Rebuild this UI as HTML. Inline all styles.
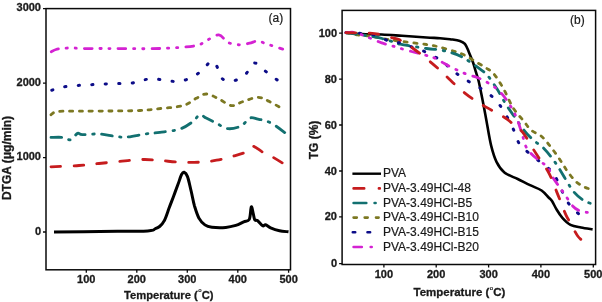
<!DOCTYPE html>
<html><head><meta charset="utf-8"><style>
html,body{margin:0;padding:0;background:#fff;}
#w{position:relative;width:602px;height:302px;overflow:hidden;background:#fff;color:#1a1a1a;filter:blur(0.35px);}
</style></head><body><div id="w">
<svg width="602" height="302" viewBox="0 0 602 302" style="position:absolute;left:0;top:0">
<rect width="602" height="302" fill="#fff"/>
<path d="M51.3,51.8 C52.1,51.4 54.2,50.0 56.0,49.5 C57.8,49.0 59.2,48.8 62.0,48.5 C64.8,48.2 69.5,47.8 72.5,47.8 C75.5,47.8 75.4,48.4 80.0,48.5 C84.6,48.6 93.3,48.5 100.0,48.5 C106.7,48.5 110.0,48.6 120.0,48.6 C130.0,48.6 147.5,49.0 160.0,48.5 C172.5,48.0 187.2,47.1 195.0,45.8 C202.8,44.5 202.6,42.3 206.6,40.5 C210.6,38.7 215.2,34.6 218.8,34.9 C222.4,35.2 224.5,40.9 228.0,42.5 C231.5,44.1 236.1,44.7 239.7,44.8 C243.3,44.9 246.6,43.9 249.6,43.2 C252.6,42.6 255.1,40.8 257.9,40.9 C260.7,41.0 262.1,42.4 266.2,43.8 C270.3,45.2 279.9,48.2 282.7,49.1" fill="none" stroke="#d422d2" stroke-width="2.8" stroke-linejoin="round" stroke-linecap="round" stroke-dasharray="7.7 7.8 1.2 7.8 1.2 8.1"/>
<path d="M51.8,90.2 C53.4,89.7 57.6,88.0 61.4,87.3 C65.2,86.5 70.1,86.1 74.6,85.7 C79.1,85.3 83.9,85.2 88.4,84.9 C92.9,84.6 97.0,84.3 101.6,84.1 C106.2,83.9 111.6,83.7 116.2,83.6 C120.8,83.5 125.5,84.0 129.3,83.6 C133.1,83.2 135.2,81.8 139.0,81.0 C142.8,80.2 147.2,78.9 151.8,78.8 C156.4,78.7 161.8,80.0 166.4,80.4 C171.0,80.9 175.3,82.1 179.6,81.5 C183.9,80.9 188.2,78.9 192.0,77.0 C195.8,75.1 199.2,72.9 202.3,70.3 C205.5,67.7 208.5,62.2 210.9,61.4 C213.3,60.6 214.6,62.8 216.5,65.7 C218.4,68.6 219.6,76.4 222.5,78.9 C225.4,81.4 230.3,81.3 234.1,80.6 C237.9,79.9 242.0,77.5 245.3,74.6 C248.6,71.7 250.9,63.8 253.9,63.0 C256.9,62.2 260.4,67.4 263.5,69.7 C266.6,72.0 270.0,75.0 272.8,77.0 C275.6,79.0 279.1,81.1 280.4,81.9" fill="none" stroke="#0c0c88" stroke-width="3.0" stroke-linejoin="round" stroke-linecap="round" stroke-dasharray="1.2 12.3"/>
<path d="M51.0,114.8 C52.1,114.2 52.8,112.1 57.6,111.5 C62.4,110.9 71.3,111.3 80.0,111.2 C88.7,111.1 100.0,111.1 110.0,111.0 C120.0,110.9 132.2,110.8 140.0,110.5 C147.8,110.2 149.4,109.7 156.6,108.9 C163.8,108.1 176.4,107.4 183.0,105.6 C189.6,103.8 192.4,100.2 196.3,98.3 C200.2,96.4 202.6,94.0 206.2,94.0 C209.8,94.0 213.6,96.4 217.8,98.3 C222.0,100.2 227.3,105.0 231.5,105.6 C235.7,106.1 238.6,103.0 243.0,101.6 C247.4,100.2 253.6,97.3 258.0,97.3 C262.4,97.3 265.1,99.5 269.5,101.6 C273.9,103.7 281.9,108.5 284.4,109.9" fill="none" stroke="#7c7822" stroke-width="2.8" stroke-linejoin="round" stroke-linecap="round" stroke-dasharray="3.2 6.6"/>
<path d="M51.0,137.4 C52.9,137.4 59.3,137.0 62.6,137.4 C65.9,137.8 68.3,140.4 70.8,139.7 C73.3,139.0 75.6,134.2 77.5,133.4 C79.4,132.6 78.8,134.6 82.4,134.7 C86.0,134.8 93.5,133.7 99.0,134.0 C104.5,134.3 110.8,135.9 115.5,136.4 C120.2,136.9 122.0,137.4 127.0,137.0 C132.0,136.6 139.8,134.8 145.3,134.0 C150.8,133.2 154.2,133.2 159.9,132.4 C165.6,131.6 174.2,130.9 179.7,129.1 C185.2,127.3 189.7,123.9 193.0,121.5 C196.3,119.1 197.4,115.4 199.6,114.8 C201.8,114.2 203.4,116.7 206.2,118.1 C209.0,119.5 212.5,121.3 216.2,123.1 C219.8,124.9 223.9,128.2 228.1,128.7 C232.3,129.1 237.8,127.6 241.4,125.8 C245.0,124.0 246.9,119.2 249.7,118.1 C252.5,117.0 254.4,118.3 258.0,119.1 C261.6,119.9 266.2,120.5 271.2,123.1 C276.1,125.7 284.9,132.8 287.7,134.7" fill="none" stroke="#127070" stroke-width="2.8" stroke-linejoin="round" stroke-linecap="round" stroke-dasharray="10.5 7.5 1.5 7.5"/>
<path d="M51.0,166.8 C55.7,166.6 71.0,166.1 79.0,165.5 C87.0,164.9 91.8,164.2 99.0,163.5 C106.2,162.8 114.5,161.9 122.0,161.2 C129.4,160.5 137.4,159.6 143.7,159.5 C150.0,159.4 153.9,160.1 159.9,160.5 C165.9,160.9 173.1,161.9 179.7,162.2 C186.3,162.5 193.4,162.5 199.6,162.2 C205.8,161.9 211.0,161.2 216.6,160.2 C222.2,159.2 227.9,157.7 233.1,156.2 C238.3,154.7 244.7,153.0 248.0,151.3 C251.3,149.7 250.5,146.1 253.0,146.3 C255.5,146.5 259.9,150.7 262.9,152.3 C265.9,154.0 267.1,153.9 271.2,156.2 C275.3,158.5 284.9,164.5 287.7,166.2" fill="none" stroke="#c61c1e" stroke-width="2.8" stroke-linejoin="round" stroke-linecap="round" stroke-dasharray="9.7 13.3"/>
<path d="M54.0,231.9 C61.7,231.8 84.4,231.7 100.0,231.5 C115.6,231.3 138.5,231.3 147.7,230.9 C156.9,230.5 153.0,229.5 155.0,228.8 C157.0,228.1 158.0,227.8 159.6,226.5 C161.2,225.2 162.8,223.7 164.3,220.7 C165.9,217.7 167.4,212.7 168.9,208.6 C170.4,204.5 172.1,200.3 173.6,196.2 C175.1,192.1 176.8,187.5 178.2,183.8 C179.5,180.2 180.7,176.2 181.7,174.3 C182.7,172.4 183.0,171.8 184.0,172.2 C185.0,172.6 186.3,173.5 187.5,176.6 C188.7,179.7 189.8,185.7 191.0,190.5 C192.2,195.3 193.1,200.9 194.4,205.6 C195.8,210.2 197.3,215.2 199.1,218.4 C200.8,221.6 202.8,223.4 204.9,224.9 C207.0,226.4 208.4,226.8 211.9,227.2 C215.4,227.6 221.8,227.7 225.8,227.4 C229.8,227.1 232.8,226.3 235.8,225.4 C238.8,224.5 241.4,222.8 243.7,221.8 C245.9,220.8 248.0,221.9 249.3,219.4 C250.6,216.9 250.6,207.8 251.3,206.9 C252.0,206.0 252.7,211.8 253.3,213.9 C253.9,216.1 254.0,218.7 254.7,219.8 C255.4,221.0 256.4,219.8 257.7,220.8 C259.0,221.8 261.3,225.1 262.6,225.8 C263.9,226.5 264.3,224.5 265.6,224.8 C266.9,225.1 268.3,226.8 270.6,227.8 C272.9,228.8 276.5,230.1 279.5,230.8 C282.5,231.5 287.0,231.6 288.5,231.8" fill="none" stroke="#000" stroke-width="3.0" stroke-linejoin="round"/>
<path d="M346.0,32.7 C348.6,32.9 355.9,33.7 361.9,34.0 C367.8,34.3 375.0,34.2 381.7,34.5 C388.4,34.8 394.5,35.3 402.0,35.8 C409.5,36.3 420.2,37.1 426.5,37.5 C432.8,37.9 436.1,37.9 440.0,38.2 C443.9,38.5 446.7,38.8 450.0,39.2 C453.3,39.7 457.4,40.1 459.9,40.9 C462.4,41.7 463.4,42.1 464.9,43.9 C466.4,45.7 467.5,48.9 468.8,51.9 C470.1,54.9 471.6,58.5 472.8,61.8 C474.0,65.1 474.8,68.4 475.8,71.7 C476.8,75.0 477.7,77.0 478.8,81.7 C479.9,86.4 481.2,93.2 482.5,99.7 C483.8,106.2 485.1,113.2 486.5,120.9 C487.9,128.6 489.5,139.1 491.2,145.9 C492.9,152.7 494.3,157.4 496.5,161.8 C498.7,166.2 500.9,169.5 504.4,172.4 C507.9,175.3 513.4,176.9 517.7,179.0 C522.0,181.1 526.0,183.3 530.0,185.2 C534.0,187.1 538.5,188.4 541.6,190.5 C544.7,192.6 546.9,195.8 548.6,197.5 C550.3,199.2 550.7,199.0 552.0,201.0 C553.3,203.0 554.9,206.7 556.6,209.5 C558.3,212.3 560.1,215.2 562.4,217.8 C564.7,220.4 567.4,223.2 570.5,224.8 C573.6,226.4 577.3,226.8 581.0,227.6 C584.7,228.4 590.7,229.1 592.6,229.4" fill="none" stroke="#000" stroke-width="2.6" stroke-linejoin="round"/>
<path d="M346.0,32.7 C348.0,33.1 354.1,34.4 357.9,34.9 C361.6,35.4 365.2,35.4 368.5,35.9 C371.8,36.4 374.7,37.0 377.8,37.6 C380.9,38.2 383.7,38.8 387.0,39.3 C390.3,39.8 391.0,40.0 397.6,40.9 C404.2,41.8 419.4,43.5 426.5,44.5 C433.6,45.5 435.1,46.0 440.0,47.2 C444.9,48.4 451.6,50.5 455.9,51.9 C460.2,53.3 462.5,54.1 465.8,55.8 C469.1,57.4 472.5,59.8 475.8,61.8 C479.1,63.8 482.7,65.8 485.7,67.8 C488.7,69.8 490.7,70.2 493.7,73.7 C496.7,77.2 500.5,83.4 503.7,89.1 C506.9,94.8 509.7,102.4 513.0,107.7 C516.3,113.0 520.6,117.2 523.6,120.9 C526.6,124.6 528.1,127.6 530.9,130.0 C533.7,132.4 537.7,133.4 540.2,135.3 C542.8,137.2 544.3,139.1 546.2,141.2 C548.1,143.3 549.6,145.6 551.5,148.0 C553.4,150.4 555.4,153.1 557.3,155.8 C559.2,158.6 561.2,161.7 563.0,164.5 C564.8,167.3 566.1,169.6 568.3,172.5 C570.5,175.4 573.5,179.5 576.4,182.0 C579.3,184.5 582.8,186.3 585.7,187.6 C588.6,188.9 592.4,189.5 593.8,189.9" fill="none" stroke="#7c7822" stroke-width="2.8" stroke-linejoin="round" stroke-linecap="round" stroke-dasharray="3.2 6.6"/>
<path d="M346.0,32.7 C350.8,33.4 368.8,35.9 375.0,36.9 C381.2,37.9 380.1,38.1 383.0,38.9 C385.9,39.7 389.4,40.7 392.3,41.6 C395.2,42.5 394.6,43.1 400.3,44.2 C406.0,45.4 419.9,47.5 426.5,48.5 C433.1,49.5 435.8,49.2 440.0,49.9 C444.2,50.6 448.2,51.8 451.9,52.9 C455.5,54.0 458.9,55.3 461.9,56.8 C464.9,58.3 466.8,59.8 469.8,61.8 C472.8,63.8 476.8,66.5 479.8,68.8 C482.8,71.1 484.8,72.3 487.7,75.7 C490.6,79.1 494.0,84.2 497.1,89.1 C500.2,94.0 503.3,100.1 506.4,105.0 C509.5,109.9 512.3,113.6 515.6,118.3 C518.9,123.0 523.0,129.2 526.2,133.0 C529.4,136.8 531.7,138.4 534.6,141.0 C537.5,143.6 540.8,145.4 543.9,148.5 C547.0,151.6 550.5,156.1 553.2,159.7 C555.9,163.3 557.9,166.5 560.2,170.2 C562.5,173.9 564.8,178.1 567.1,181.8 C569.4,185.5 571.4,189.1 574.1,192.2 C576.8,195.3 580.1,198.2 583.4,200.3 C586.7,202.4 592.1,203.8 593.8,204.5" fill="none" stroke="#127070" stroke-width="2.8" stroke-linejoin="round" stroke-linecap="round" stroke-dasharray="10.5 7.5 1.5 7.5"/>
<path d="M346.0,32.7 C348.9,32.9 358.2,33.2 363.2,33.6 C368.2,34.0 370.9,33.8 375.8,35.3 C380.7,36.8 387.8,41.3 392.3,42.5 C396.8,43.7 399.1,41.8 402.6,42.7 C406.1,43.6 409.9,46.4 413.4,47.8 C416.9,49.2 420.3,49.8 423.8,51.2 C427.3,52.7 431.2,54.7 434.4,56.5 C437.6,58.3 439.9,59.4 443.0,61.8 C446.1,64.2 449.6,68.1 452.9,70.8 C456.2,73.5 459.4,75.4 462.9,77.7 C466.4,80.0 470.3,82.6 473.8,84.7 C477.3,86.8 480.6,88.1 483.8,90.2 C487.0,92.3 490.5,95.0 493.1,97.5 C495.8,100.0 497.5,102.0 499.7,105.0 C501.9,108.0 504.1,111.4 506.4,115.6 C508.7,119.8 511.6,125.4 513.7,130.0 C515.8,134.6 516.6,139.4 519.0,143.2 C521.4,146.9 523.7,148.5 528.3,152.5 C532.9,156.5 542.4,163.4 546.8,167.1 C551.1,170.8 551.2,169.4 554.4,174.8 C557.6,180.2 562.7,193.5 566.0,199.3 C569.3,205.1 571.2,206.4 574.1,209.5 C577.0,212.6 581.8,216.6 583.3,218.0" fill="none" stroke="#0c0c88" stroke-width="3.0" stroke-linejoin="round" stroke-linecap="round" stroke-dasharray="1.2 12.3"/>
<path d="M346.0,32.7 C347.3,32.6 351.0,31.9 353.9,32.3 C356.8,32.7 360.4,34.3 363.2,35.3 C366.0,36.3 367.4,36.9 370.5,38.2 C373.6,39.5 378.1,41.6 381.7,42.9 C385.3,44.2 389.2,45.0 392.3,45.9 C395.4,46.8 397.1,47.5 400.3,48.4 C403.5,49.3 407.9,50.5 411.5,51.5 C415.1,52.5 419.1,53.4 422.2,54.2 C425.3,55.1 427.9,55.9 430.0,56.6 C432.1,57.3 432.9,57.2 435.0,58.2 C437.1,59.2 439.9,61.0 442.4,62.4 C444.9,63.8 447.1,65.1 449.8,66.5 C452.6,67.9 455.9,69.4 458.9,70.8 C461.9,72.2 464.6,73.5 467.8,74.7 C471.0,75.9 474.5,76.4 477.8,77.7 C481.1,79.0 484.4,80.7 487.7,82.7 C491.0,84.7 494.6,86.8 497.7,89.6 C500.8,92.4 503.4,95.4 506.4,99.7 C509.4,104.0 513.0,110.1 515.6,115.6 C518.2,121.1 519.8,127.1 521.7,132.6 C523.6,138.1 524.1,143.8 527.0,148.5 C529.9,153.2 535.5,157.5 538.9,160.5 C542.3,163.5 545.2,164.1 547.4,166.7 C549.6,169.3 550.1,172.7 552.0,176.0 C553.9,179.3 556.9,183.3 559.0,186.4 C561.1,189.5 562.5,191.2 564.8,194.5 C567.1,197.8 570.4,203.5 572.9,206.2 C575.4,208.9 577.2,209.8 579.9,210.9 C582.6,212.0 587.7,212.4 589.2,212.7" fill="none" stroke="#d422d2" stroke-width="2.8" stroke-linejoin="round" stroke-linecap="round" stroke-dasharray="7.7 7.8 1.2 7.8 1.2 8.1"/>
<path d="M346.0,32.7 C350.0,32.8 364.3,32.9 369.8,33.2 C375.3,33.5 375.2,33.5 379.0,34.3 C382.8,35.1 389.0,36.9 392.3,37.8 C395.6,38.7 395.5,37.8 399.0,39.6 C402.5,41.4 407.7,44.6 413.2,48.5 C418.7,52.4 426.5,58.7 431.8,63.1 C437.1,67.5 440.3,70.7 445.0,75.0 C449.7,79.3 454.9,84.8 460.0,89.1 C465.1,93.4 470.6,97.6 475.9,101.1 C481.2,104.6 486.5,107.2 491.8,110.3 C497.1,113.4 503.5,116.5 507.7,119.6 C511.9,122.7 514.5,126.7 517.0,128.9 C519.5,131.1 519.8,128.4 523.0,132.6 C526.2,136.8 531.9,147.2 536.2,153.8 C540.5,160.5 545.2,166.2 548.6,172.5 C552.0,178.8 554.5,186.5 556.6,191.6 C558.7,196.7 559.7,199.3 561.2,203.2 C562.8,207.1 564.1,211.1 565.9,214.8 C567.6,218.5 569.8,221.7 571.7,225.2 C573.6,228.7 575.4,232.8 577.5,235.7 C579.6,238.6 583.2,241.4 584.4,242.6" fill="none" stroke="#c61c1e" stroke-width="2.8" stroke-linejoin="round" stroke-linecap="round" stroke-dasharray="9.7 13.3"/>
<rect x="46" y="8.6" width="244.5" height="261.2" fill="none" stroke="#0a0a0a" stroke-width="1.5"/>
<rect x="342.1" y="10.4" width="253.5" height="254.1" fill="none" stroke="#0a0a0a" stroke-width="1.5"/>
<path d="M86.3,269.8 V272.8 M136.8,269.8 V272.8 M187.3,269.8 V272.8 M237.8,269.8 V272.8 M288.6,269.8 V272.8 M46,8.6 H43 M46,83.2 H43 M46,157.6 H43 M46,232.0 H43 M383.9,264.5 V267.5 M436.2,264.5 V267.5 M488.6,264.5 V267.5 M540.9,264.5 V267.5 M593.3,264.5 V267.5 M342.1,33.2 H339.1 M342.1,79.1 H339.1 M342.1,125.0 H339.1 M342.1,171.0 H339.1 M342.1,216.9 H339.1 M342.1,263.6 H339.1" stroke="#0a0a0a" stroke-width="1.3" fill="none"/>
<path d="M352.4,173.7 H381" stroke="#000" stroke-width="2.4"/>
<path d="M353.59999999999997,188.4 H364.2 M378.9,188.4 H379.8" stroke="#c61c1e" stroke-width="2.6" stroke-linecap="round"/>
<path d="M353.59999999999997,203.0 H366.3 M374.59999999999997,203.0 H375.6" stroke="#127070" stroke-width="2.6" stroke-linecap="round"/>
<path d="M353.59999999999997,217.6 H356.8 M364.7,217.6 H367.7 M376.0,217.6 H378.6" stroke="#7c7822" stroke-width="2.6" stroke-linecap="round"/>
<path d="M352.8,232.3 H355.2 M367.5,232.3 H370.1" stroke="#0c0c88" stroke-width="2.6" stroke-linecap="round"/>
<path d="M353.59999999999997,247.0 H361.8 M370.7,247.0 H371.7" stroke="#d422d2" stroke-width="2.6" stroke-linecap="round"/>
</svg>
<div style="position:absolute;left:36.3px;width:100px;text-align:center;top:273.5px;font-family:'Liberation Sans',sans-serif;font-size:11px;font-weight:bold;line-height:1;white-space:nowrap;-webkit-text-stroke:0.3px #1a1a1a;">100</div><div style="position:absolute;left:86.80000000000001px;width:100px;text-align:center;top:273.5px;font-family:'Liberation Sans',sans-serif;font-size:11px;font-weight:bold;line-height:1;white-space:nowrap;-webkit-text-stroke:0.3px #1a1a1a;">200</div><div style="position:absolute;left:137.3px;width:100px;text-align:center;top:273.5px;font-family:'Liberation Sans',sans-serif;font-size:11px;font-weight:bold;line-height:1;white-space:nowrap;-webkit-text-stroke:0.3px #1a1a1a;">300</div><div style="position:absolute;left:187.8px;width:100px;text-align:center;top:273.5px;font-family:'Liberation Sans',sans-serif;font-size:11px;font-weight:bold;line-height:1;white-space:nowrap;-webkit-text-stroke:0.3px #1a1a1a;">400</div><div style="position:absolute;left:238.60000000000002px;width:100px;text-align:center;top:273.5px;font-family:'Liberation Sans',sans-serif;font-size:11px;font-weight:bold;line-height:1;white-space:nowrap;-webkit-text-stroke:0.3px #1a1a1a;">500</div><div style="position:absolute;right:561px;top:2.0999999999999996px;font-family:'Liberation Sans',sans-serif;font-size:11px;font-weight:bold;line-height:1;white-space:nowrap;-webkit-text-stroke:0.3px #1a1a1a;">3000</div><div style="position:absolute;right:561px;top:76.7px;font-family:'Liberation Sans',sans-serif;font-size:11px;font-weight:bold;line-height:1;white-space:nowrap;-webkit-text-stroke:0.3px #1a1a1a;">2000</div><div style="position:absolute;right:561px;top:151.1px;font-family:'Liberation Sans',sans-serif;font-size:11px;font-weight:bold;line-height:1;white-space:nowrap;-webkit-text-stroke:0.3px #1a1a1a;">1000</div><div style="position:absolute;right:561px;top:225.5px;font-family:'Liberation Sans',sans-serif;font-size:11px;font-weight:bold;line-height:1;white-space:nowrap;-webkit-text-stroke:0.3px #1a1a1a;">0</div><div style="position:absolute;left:333.9px;width:100px;text-align:center;top:268.5px;font-family:'Liberation Sans',sans-serif;font-size:11px;font-weight:bold;line-height:1;white-space:nowrap;-webkit-text-stroke:0.3px #1a1a1a;">100</div><div style="position:absolute;left:386.2px;width:100px;text-align:center;top:268.5px;font-family:'Liberation Sans',sans-serif;font-size:11px;font-weight:bold;line-height:1;white-space:nowrap;-webkit-text-stroke:0.3px #1a1a1a;">200</div><div style="position:absolute;left:438.6px;width:100px;text-align:center;top:268.5px;font-family:'Liberation Sans',sans-serif;font-size:11px;font-weight:bold;line-height:1;white-space:nowrap;-webkit-text-stroke:0.3px #1a1a1a;">300</div><div style="position:absolute;left:490.9px;width:100px;text-align:center;top:268.5px;font-family:'Liberation Sans',sans-serif;font-size:11px;font-weight:bold;line-height:1;white-space:nowrap;-webkit-text-stroke:0.3px #1a1a1a;">400</div><div style="position:absolute;left:543.3px;width:100px;text-align:center;top:268.5px;font-family:'Liberation Sans',sans-serif;font-size:11px;font-weight:bold;line-height:1;white-space:nowrap;-webkit-text-stroke:0.3px #1a1a1a;">500</div><div style="position:absolute;right:265px;top:27.700000000000003px;font-family:'Liberation Sans',sans-serif;font-size:11px;font-weight:bold;line-height:1;white-space:nowrap;-webkit-text-stroke:0.3px #1a1a1a;">100</div><div style="position:absolute;right:265px;top:73.6px;font-family:'Liberation Sans',sans-serif;font-size:11px;font-weight:bold;line-height:1;white-space:nowrap;-webkit-text-stroke:0.3px #1a1a1a;">80</div><div style="position:absolute;right:265px;top:119.5px;font-family:'Liberation Sans',sans-serif;font-size:11px;font-weight:bold;line-height:1;white-space:nowrap;-webkit-text-stroke:0.3px #1a1a1a;">60</div><div style="position:absolute;right:265px;top:165.5px;font-family:'Liberation Sans',sans-serif;font-size:11px;font-weight:bold;line-height:1;white-space:nowrap;-webkit-text-stroke:0.3px #1a1a1a;">40</div><div style="position:absolute;right:265px;top:211.4px;font-family:'Liberation Sans',sans-serif;font-size:11px;font-weight:bold;line-height:1;white-space:nowrap;-webkit-text-stroke:0.3px #1a1a1a;">20</div><div style="position:absolute;right:265px;top:258.1px;font-family:'Liberation Sans',sans-serif;font-size:11px;font-weight:bold;line-height:1;white-space:nowrap;-webkit-text-stroke:0.3px #1a1a1a;">0</div><div style="position:absolute;left:124.0px;top:289.8px;font-family:'Liberation Sans',sans-serif;font-size:11.2px;font-weight:bold;line-height:1;white-space:nowrap;-webkit-text-stroke:0.3px #1a1a1a;">Temperature (<span style="font-size:6px;font-weight:normal;position:relative;top:-6.5px;margin-left:0.5px;-webkit-text-stroke:0.2px #1a1a1a">o</span>C)</div><div style="position:absolute;left:413.5px;top:287.2px;font-family:'Liberation Sans',sans-serif;font-size:11.5px;font-weight:bold;line-height:1;white-space:nowrap;-webkit-text-stroke:0.3px #1a1a1a;">Temperature (<span style="font-size:6px;font-weight:normal;position:relative;top:-6.5px;margin-left:0.5px;-webkit-text-stroke:0.2px #1a1a1a">o</span>C)</div><div style="position:absolute;left:268.5px;top:11.8px;font-family:'Liberation Sans',sans-serif;font-size:12px;font-weight:normal;line-height:1;white-space:nowrap;-webkit-text-stroke:0.2px #1a1a1a;">(a)</div><div style="position:absolute;left:570px;top:13.7px;font-family:'Liberation Sans',sans-serif;font-size:12px;font-weight:normal;line-height:1;white-space:nowrap;-webkit-text-stroke:0.2px #1a1a1a;">(b)</div><div style="position:absolute;left:6.6px;top:157.5px;width:0;height:0"><div style="position:absolute;transform:translate(-50%,-50%) rotate(-90deg);font-family:'Liberation Sans',sans-serif;font-size:12px;font-weight:bold;line-height:1;white-space:nowrap;-webkit-text-stroke:0.3px #1a1a1a">DTGA (&mu;g/min)</div></div><div style="position:absolute;left:314px;top:139.5px;width:0;height:0"><div style="position:absolute;transform:translate(-50%,-50%) rotate(-90deg);font-family:'Liberation Sans',sans-serif;font-size:12px;font-weight:bold;line-height:1;white-space:nowrap;-webkit-text-stroke:0.3px #1a1a1a">TG (%)</div></div><div style="position:absolute;left:383px;top:167.39999999999998px;font-family:'Liberation Sans',sans-serif;font-size:12px;font-weight:normal;line-height:1;white-space:nowrap;-webkit-text-stroke:0.2px #1a1a1a;">PVA</div><div style="position:absolute;left:383px;top:182.1px;font-family:'Liberation Sans',sans-serif;font-size:12px;font-weight:normal;line-height:1;white-space:nowrap;-webkit-text-stroke:0.2px #1a1a1a;">PVA-3.49HCl-48</div><div style="position:absolute;left:383px;top:196.7px;font-family:'Liberation Sans',sans-serif;font-size:12px;font-weight:normal;line-height:1;white-space:nowrap;-webkit-text-stroke:0.2px #1a1a1a;">PVA-3.49HCl-B5</div><div style="position:absolute;left:383px;top:211.29999999999998px;font-family:'Liberation Sans',sans-serif;font-size:12px;font-weight:normal;line-height:1;white-space:nowrap;-webkit-text-stroke:0.2px #1a1a1a;">PVA-3.49HCl-B10</div><div style="position:absolute;left:383px;top:226.0px;font-family:'Liberation Sans',sans-serif;font-size:12px;font-weight:normal;line-height:1;white-space:nowrap;-webkit-text-stroke:0.2px #1a1a1a;">PVA-3.49HCl-B15</div><div style="position:absolute;left:383px;top:240.7px;font-family:'Liberation Sans',sans-serif;font-size:12px;font-weight:normal;line-height:1;white-space:nowrap;-webkit-text-stroke:0.2px #1a1a1a;">PVA-3.49HCl-B20</div>
</div></body></html>
